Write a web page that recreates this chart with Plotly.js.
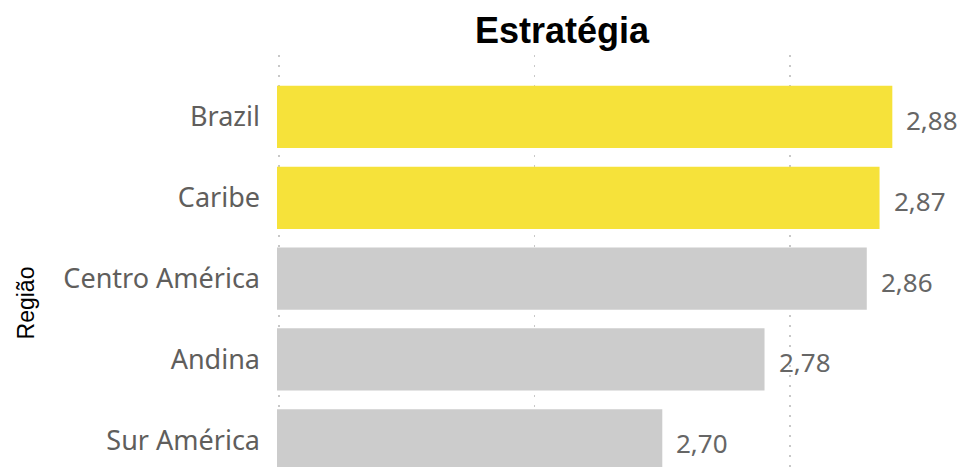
<!DOCTYPE html>
<html>
<head>
<meta charset="utf-8">
<script src="https://cdn.plot.ly/plotly-3.0.1.min.js"></script>
<style>html,body{margin:0;padding:0;background:#fff;width:969px;height:467px;overflow:hidden;}#chart{width:969px;height:551px;}</style>
</head>
<body>
<div id="chart"></div>
<script>
const categories = ["Brazil", "Caribe", "Centro América", "Andina", "Sur América"];
const values = [2.88, 2.87, 2.86, 2.78, 2.70];
const valueLabels = ["2,88", "2,87", "2,86", "2,78", "2,70"];
const highlighted = [true, true, false, false, false];

const colors = highlighted.map(h => h ? "#F6E23A" : "#CCCCCC");
const labelFont = "'Segoe UI', 'Noto Sans', sans-serif";

const trace = {
  type: "bar",
  orientation: "h",
  y: categories,
  x: values,
  marker: {color: colors, line: {width: 0}},
  hoverinfo: "skip"
};

const annotations = categories.map((c, i) => ({
  x: values[i],
  y: c,
  xref: "x",
  yref: "y",
  text: valueLabels[i],
  showarrow: false,
  xanchor: "left",
  yanchor: "middle",
  xshift: 12,
  yshift: -3,
  font: {family: labelFont, size: 26, color: "#666666"}
}));

const layout = {
  width: 969,
  height: 551,
  margin: {l: 277, r: 0, t: 55, b: 0},
  paper_bgcolor: "#ffffff",
  plot_bgcolor: "#ffffff",
  title: {
    text: "<b>Estratégia</b>",
    font: {family: "Liberation Sans, Arial, sans-serif", size: 36, color: "#000000"},
    x: 0.58, xanchor: "center", y: 0.945, yanchor: "middle"
  },
  bargap: 0.23,
  showlegend: false,
  annotations: annotations,
  xaxis: {
    range: [2.3985, 2.94],
    tick0: 2.4,
    dtick: 0.2,
    showticklabels: false,
    showgrid: true,
    gridcolor: "#C8C8C8",
    griddash: "2px,8px",
    gridwidth: 1.5,
    zeroline: false,
    showline: false,
    fixedrange: true
  },
  yaxis: {
    type: "category",
    categoryorder: "array",
    categoryarray: categories,
    range: [5.37, -0.767],
    showgrid: false,
    zeroline: false,
    showline: false,
    ticks: "",
    ticklabelstandoff: 16,
    tickfont: {family: labelFont, size: 27, color: "#605E5C"},
    title: {
      text: "Região",
      font: {family: "Liberation Sans, Arial, sans-serif", size: 23, color: "#000000"},
      standoff: 22
    },
    automargin: false
  }
};

Plotly.newPlot("chart", [trace], layout, {displayModeBar: false, staticPlot: true});
</script>
</body>
</html>
